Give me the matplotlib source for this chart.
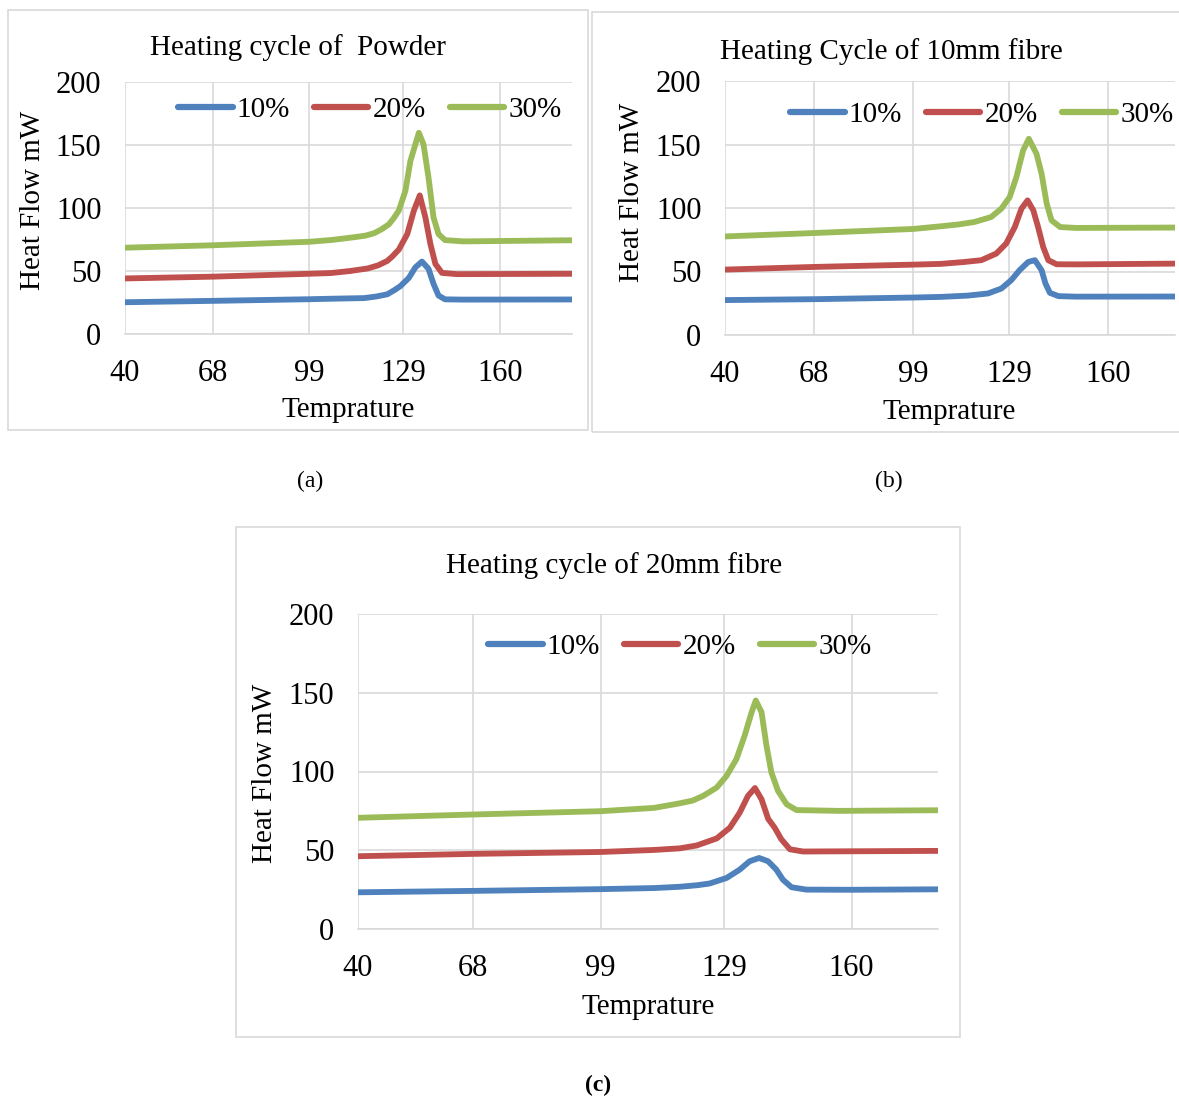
import matplotlib
matplotlib.use("Agg")
import matplotlib.pyplot as plt
from matplotlib.patches import Rectangle

plt.rcParams['font.family'] = ['Liberation Serif', 'DejaVu Serif']

# ---------------- data ----------------
series_names = ["10%", "20%", "30%"]
colors = ["#4F81BD", "#C0504D", "#9BBB59"]
x_ticks = [40, 68, 99, 129, 160]
y_ticks = [0, 50, 100, 150, 200]

# (a) Powder
a_x10 = [40, 68, 99, 106, 116.5, 120.5, 123.9, 126.3, 128.1, 130.8, 132.9, 135.0, 137.1, 138.7, 140.3, 142.4, 148, 183]
a_y10 = [25.2, 26.3, 27.6, 28.0, 28.5, 29.8, 31.5, 35.0, 38.0, 44.5, 52.9, 57.5, 51.7, 39.8, 30.5, 27.5, 27.3, 27.4]
a_x20 = [40, 68, 99, 106, 112, 117.6, 121, 123.9, 125.5, 127.6, 130.3, 132.4, 134.3, 136.1, 137.7, 139.3, 141.4, 146.2, 183]
a_y20 = [44.1, 45.5, 47.8, 48.4, 50.0, 52.0, 54.5, 58.0, 61.5, 67.0, 79.3, 97.8, 110.0, 92.5, 71.4, 55.6, 48.5, 47.5, 47.8]
a_x30 = [40, 68, 99, 106, 112.3, 116.8, 119.7, 122, 124.4, 126, 127.6, 129.7, 131.3, 134.0, 135.5, 137.1, 138.7, 140.3, 142.4, 148.3, 183]
a_y30 = [68.5, 70.4, 73.2, 74.6, 76.5, 78.0, 80.0, 83.0, 87.0, 92.0, 98.0, 113.6, 137.3, 159.7, 150.5, 124.1, 92.5, 79.3, 74.5, 73.5, 74.4]

# (b) 10mm fibre
b_x10 = [40, 68, 99, 107.6, 116, 122.4, 126.6, 129.7, 132.3, 135.0, 137.1, 139.2, 140.4, 141.8, 144.5, 150, 181]
b_y10 = [27.5, 28.2, 29.5, 30.0, 31.0, 32.7, 36.6, 43.2, 51.0, 57.5, 58.9, 51.0, 40.6, 33.2, 30.6, 30.2, 30.3]
b_x20 = [40, 68, 99, 107.6, 115, 120.3, 125, 128.1, 130.8, 132.9, 134.8, 136.6, 138.1, 139.7, 141.3, 143.9, 150, 181]
b_y20 = [51.5, 53.6, 55.4, 56.0, 57.5, 58.9, 64.1, 72.0, 85.0, 99.5, 106.0, 98.2, 85.0, 69.3, 58.9, 55.7, 55.6, 56.2]
b_x30 = [40, 68, 99, 107.6, 113, 118.2, 123.4, 126.6, 129.2, 131.3, 133.4, 135.2, 137.6, 139.2, 140.8, 142.3, 145, 150, 181]
b_y30 = [77.6, 80.3, 83.5, 85.6, 87.0, 89.0, 92.9, 99.5, 108.6, 124.3, 145.3, 154.5, 142.7, 127.0, 103.4, 90.3, 85.0, 84.3, 84.6]

# (c) 20mm fibre
c_x10 = [40, 68, 99, 112, 118.2, 122.5, 125.5, 129.6, 132.8, 135.2, 137.5, 139.7, 141.7, 143.3, 145.4, 149, 160, 181]
c_y10 = [23.3, 24.2, 25.3, 26.0, 26.8, 27.8, 28.9, 32.4, 37.7, 43.0, 45.1, 43.0, 37.7, 31.3, 26.5, 25.0, 24.9, 25.2]
c_x20 = [40, 68, 99, 112, 118.2, 122.3, 127.2, 130.4, 132.8, 134.8, 136.5, 138.1, 139.7, 141.3, 142.9, 145, 148.2, 181]
c_y20 = [46.2, 47.7, 48.9, 50.2, 51.2, 53.0, 57.5, 64.3, 73.9, 84.5, 89.5, 82.4, 70.0, 64.3, 57.0, 50.6, 49.2, 49.6]
c_x30 = [40, 68, 99, 112, 118.2, 121.3, 123.9, 127.2, 129.6, 132, 134, 135.7, 136.7, 138.1, 139.3, 140.5, 142.1, 144.2, 146.6, 157, 181]
c_y30 = [70.6, 72.7, 74.8, 76.9, 79.8, 81.5, 84.5, 89.8, 97.2, 107.9, 122.8, 137.7, 145.1, 137.7, 116.4, 99.4, 87.7, 79.2, 75.5, 75.0, 75.4]

W, H = 1179, 1099
fig = plt.figure(figsize=(W / 100, H / 100), dpi=100)


def fx(px):
    return px / W


def fy(py):
    return 1 - py / H


def panel(rect_px, frame_px, xs, ys, title, title_pos, ylab_pos, xlab_pos, xmax, leg_anchor):
    l, r, t, b = rect_px
    ax = fig.add_axes([fx(l), fy(b), fx(r - l), (b - t) / H])
    fl, ft, fr, fb = frame_px
    fig.patches.append(Rectangle((fx(fl), fy(fb)), fx(fr - fl), (fb - ft) / H,
                                 transform=fig.transFigure, fill=False,
                                 edgecolor="#D9D9D9", linewidth=1.2, zorder=0))
    for xv, yv, c, n in zip(xs, ys, colors, series_names):
        ax.plot(xv, yv, color=c, linewidth=4.2, solid_capstyle="round",
                solid_joinstyle="round", label=n)
    ax.set_xlim(40, xmax)
    ax.set_ylim(0, 200)
    ax.set_xticks(x_ticks)
    ax.set_yticks(y_ticks)
    ax.grid(True, color="#D9D9D9", linewidth=1.2)
    ax.set_axisbelow(True)
    for s in ["top", "right", "left"]:
        ax.spines[s].set_visible(False)
    ax.spines["bottom"].set_color("#D9D9D9")
    ax.spines["bottom"].set_linewidth(1.2)
    ax.tick_params(axis="both", length=0, labelsize=22)
    ax.tick_params(axis="x", pad=18)
    ax.tick_params(axis="y", pad=17)
    leg = ax.legend(loc="center", bbox_to_anchor=leg_anchor, ncol=3, frameon=False,
                    fontsize=21, handlelength=1.86, handletextpad=0.14,
                    columnspacing=0.83, borderaxespad=0)
    for h in leg.legend_handles:
        h.set_linewidth(4.5)
    fig.text(fx(title_pos[0]), fy(title_pos[1]), title, ha="center", va="center", fontsize=21)
    fig.text(fx(ylab_pos[0]), fy(ylab_pos[1]), "Heat Flow mW", ha="center", va="center",
             rotation=90, fontsize=21)
    fig.text(fx(xlab_pos[0]), fy(xlab_pos[1]), "Temprature", ha="center", va="center", fontsize=21)
    return ax


panel((125, 572, 82, 334), (8, 10, 588, 430),
      [a_x10, a_x20, a_x30], [a_y10, a_y20, a_y30],
      "Heating cycle of  Powder", (298, 48), (33, 200), (348, 410), 183, (0.548, 0.889))
panel((725, 1175, 81, 335), (592, 12, 1190, 432),
      [b_x10, b_x20, b_x30], [b_y10, b_y20, b_y30],
      "Heating Cycle of 10mm fibre", (891, 52), (632, 192), (949, 412), 181, (0.571, 0.866))
panel((358, 938, 614, 929), (236, 527, 960, 1037),
      [c_x10, c_x20, c_x30], [c_y10, c_y20, c_y30],
      "Heating cycle of 20mm fibre", (614, 566), (265, 773), (648, 1007), 181, (0.555, 0.895))

fig.text(fx(310), fy(481), "(a)", ha="center", va="center", fontsize=17)
fig.text(fx(889), fy(481), "(b)", ha="center", va="center", fontsize=17)
fig.text(fx(598), fy(1085), "(c)", ha="center", va="center", fontsize=17, fontweight="bold")

fig.savefig("out.png", dpi=100, facecolor="white")
